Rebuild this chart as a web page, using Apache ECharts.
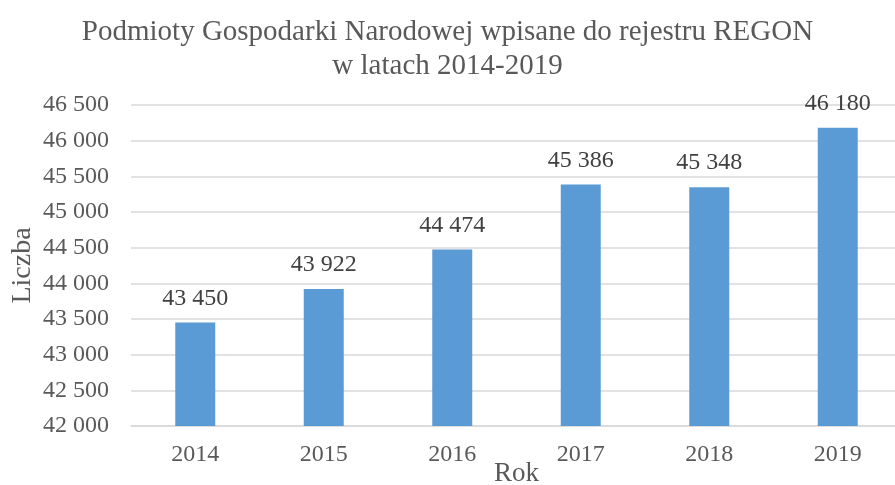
<!DOCTYPE html>
<html>
<head>
<meta charset="utf-8">
<script src="https://cdn.jsdelivr.net/npm/echarts@6/dist/echarts.min.js"></script>
<style>
  html, body { margin: 0; padding: 0; background: #fff; overflow: hidden; }
  #chart { width: 895px; height: 485px; }
</style>
</head>
<body>
<div id="chart"></div>
<script>
// lata i liczba podmiotów
const years = ['2014', '2015', '2016', '2017', '2018', '2019']
const counts = [43450, 43922, 44474, 45386, 45348, 46180]

const fmt = v => String(v).replace(/\B(?=(\d{3})+(?!\d))/g, ' ')
const font = 'Liberation Serif'

const chart = echarts.init(document.getElementById('chart'))
chart.setOption({
  animation: false,
  textStyle: { fontFamily: font },
  title: {
    text: 'Podmioty Gospodarki Narodowej wpisane do rejestru REGON\nw latach 2014-2019',
    left: 'center',
    top: 10,
    textStyle: { fontFamily: font, fontSize: 29, fontWeight: 'normal', color: '#595959', lineHeight: 34 }
  },
  // wykres jest przycięty z prawej strony, stąd szerokość większa niż okno
  grid: { left: 131, top: 105, width: 771, height: 321, outerBoundsMode: 'none', containLabel: false },
  xAxis: {
    type: 'category',
    data: years,
    name: 'Rok',
    nameLocation: 'middle',
    nameGap: 34,
    nameMoveOverlap: false,
    nameTextStyle: { fontFamily: font, fontSize: 27, color: '#595959' },
    axisLine: { lineStyle: { color: '#d9d9d9', width: 1.5 } },
    axisTick: { show: false },
    axisLabel: { fontFamily: font, fontSize: 24, color: '#595959', margin: 17 }
  },
  yAxis: {
    type: 'value',
    min: 42000,
    max: 46500,
    interval: 500,
    name: 'Liczba',
    nameLocation: 'middle',
    nameGap: 94,
    nameMoveOverlap: false,
    nameTextStyle: { fontFamily: font, fontSize: 28, color: '#595959' },
    axisLine: { show: false },
    axisTick: { show: false },
    axisLabel: { fontFamily: font, fontSize: 24, color: '#595959', margin: 22, formatter: fmt },
    splitLine: { lineStyle: { color: '#d9d9d9', width: 1.5 } }
  },
  series: [{
    type: 'bar',
    data: counts,
    barWidth: 40,
    itemStyle: { color: '#5b9bd5' },
    label: {
      show: true,
      position: 'top',
      distance: 12,
      fontFamily: font,
      fontSize: 24,
      color: '#404040',
      formatter: p => fmt(p.value)
    }
  }]
})
</script>
</body>
</html>
